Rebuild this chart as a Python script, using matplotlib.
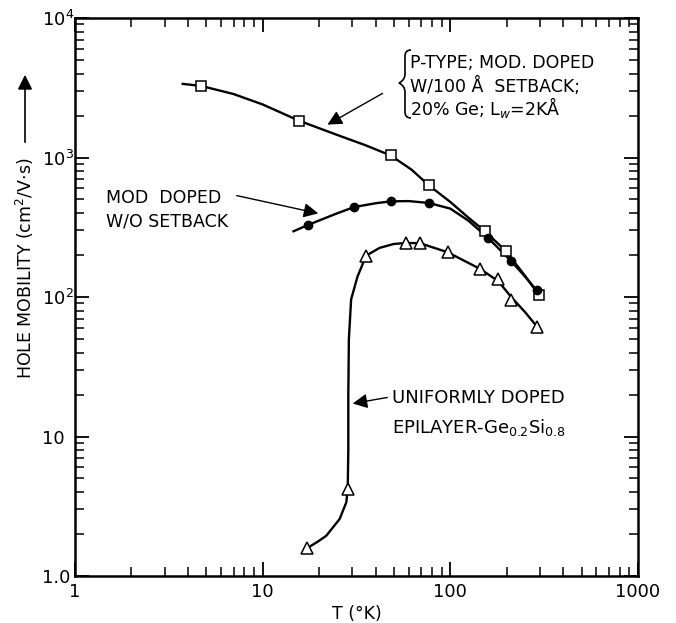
import numpy as np
import matplotlib
matplotlib.use('Agg')
import matplotlib.pyplot as plt
from matplotlib.path import Path
from matplotlib.patches import PathPatch
from matplotlib.ticker import FixedLocator, NullFormatter, LogLocator

# markers (T in K, mobility in cm2/V.s)
sq_T = [4.7, 15.7, 48, 77, 153, 198, 297]
sq_mu = [3260, 1830, 1035, 630, 296, 213, 103]

dot_T = [17.5, 30.6, 48, 77, 159, 210, 288]
dot_mu = [329, 441, 485, 472, 265, 182, 112]

tri_T = [17.2, 28.4, 35.6, 58.1, 69, 97, 144, 180, 211, 290]
tri_mu = [1.58, 4.2, 198, 244, 243, 209, 159, 135, 95, 61.2]

# traced lines through the markers
sq_line_T = [3.75, 4.7, 7, 10, 15.7, 25, 35, 48, 62, 77, 100, 125, 153, 198, 250, 297]
sq_line_mu = [3370, 3260, 2850, 2400, 1830, 1450, 1230, 1035, 820, 630, 480, 370, 296, 213, 142, 103]

dot_line_T = [14.6, 17.5, 24, 30.6, 40, 48, 60, 77, 100, 125, 159, 210, 250, 288]
dot_line_mu = [296, 329, 390, 441, 470, 485, 487, 472, 430, 352, 265, 182, 140, 112]

tri_line_T = [17.2, 19.5, 21.8, 25.7, 27.9, 28.4, 28.6, 28.6, 28.8, 29.6, 32, 35.6,
              42, 50, 58.1, 69, 97, 144, 180, 211, 250, 290]
tri_line_mu = [1.58, 1.75, 1.94, 2.56, 3.37, 4.2, 8, 20, 50, 96, 140, 198,
               225, 240, 244, 243, 209, 159, 130, 100, 78, 61.2]

x_ticks = [1, 10, 100, 1000]
x_labels = ['1', '10', '100', '1000']
y_ticks = [1, 10, 100, 1000, 10000]
y_labels = ['1.0', '10', '$10^2$', '$10^3$', '$10^4$']

W, H = 676, 623


def px(x, y):
    # picture pixel -> figure fraction
    return x / W, 1 - y / H


fig = plt.figure(figsize=(W / 100, H / 100), dpi=100)
ax = fig.add_axes([75 / W, 1 - 576 / H, (638 - 75) / W, (576 - 18) / H])
ax.set_xscale('log')
ax.set_yscale('log')
ax.set_xlim(1, 1000)
ax.set_ylim(1, 10000)

lw = 1.7
ax.plot(sq_line_T, sq_line_mu, color='k', lw=lw, zorder=2)
ax.plot(dot_line_T, dot_line_mu, color='k', lw=lw, zorder=2)
ax.plot(tri_line_T, tri_line_mu, color='k', lw=lw, zorder=2)
ax.plot(sq_T, sq_mu, 's', ms=7.5, mfc='white', mec='k', mew=1.1, zorder=3)
ax.plot(dot_T, dot_mu, 'o', ms=6, mfc='k', mec='k', zorder=3)
ax.plot(tri_T, tri_mu, '^', ms=8, mfc='white', mec='k', mew=1.1, zorder=3)

ax.xaxis.set_major_locator(FixedLocator(x_ticks))
ax.xaxis.set_minor_locator(LogLocator(base=10, subs=np.arange(2, 10)))
ax.xaxis.set_minor_formatter(NullFormatter())
ax.set_xticklabels(x_labels)
ax.yaxis.set_major_locator(FixedLocator(y_ticks))
ax.yaxis.set_minor_locator(LogLocator(base=10, subs=np.arange(2, 10)))
ax.yaxis.set_minor_formatter(NullFormatter())
ax.set_yticklabels(y_labels, ha='left')

ax.tick_params(which='both', direction='in', top=True, right=True, labelsize=13)
ax.tick_params(which='major', length=10, width=1.3)
ax.tick_params(which='minor', length=6.5, width=1.1)
ax.tick_params(axis='x', which='major', pad=5)
ax.tick_params(axis='y', which='major', pad=23.5)
for s in ax.spines.values():
    s.set_linewidth(1.8)

ax.set_xlabel('T (°K)', fontsize=12.5, labelpad=3)

# y label with arrow above it
fig.text(*px(25, 268), 'HOLE MOBILITY (cm$^2$/V$\\cdot$s)', rotation=90,
         ha='center', va='center', fontsize=12.5)
ax.annotate('', xy=px(25, 72), xytext=px(25, 145), xycoords='figure fraction',
            textcoords='figure fraction',
            arrowprops=dict(arrowstyle='-|>', color='k', lw=1.2, mutation_scale=22))

fs = 12.5
arrow = dict(arrowstyle='-|>', color='k', lw=1.0, mutation_scale=22)

# upper label block with brace
for row, yy in zip(['P-TYPE; MOD. DOPED', 'W/100 Å  SETBACK;', '20% Ge; L$_w$=2KÅ'],
                   [63, 86, 108]):
    fig.text(*px(410, yy), row, ha='left', va='center', fontsize=fs)
verts = [px(411, 50), px(405, 50), px(405, 56), px(405, 62),
         px(405, 74), px(405, 80), px(399, 83),
         px(405, 86), px(405, 92),
         px(405, 104), px(405, 112), px(405, 118), px(411, 118)]
codes = [Path.MOVETO, Path.CURVE3, Path.CURVE3, Path.LINETO,
         Path.LINETO, Path.CURVE3, Path.CURVE3,
         Path.CURVE3, Path.CURVE3,
         Path.LINETO, Path.LINETO, Path.CURVE3, Path.CURVE3]
fig.add_artist(PathPatch(Path(verts, codes), transform=fig.transFigure,
                         fill=False, lw=1.2, color='k'))
ax.annotate('', xy=px(325, 126), xytext=px(385, 92), xycoords='figure fraction',
            textcoords='figure fraction', arrowprops=arrow)

# mod doped w/o setback
fig.text(*px(106, 198), 'MOD  DOPED', ha='left', va='center', fontsize=fs)
fig.text(*px(106, 222), 'W/O SETBACK', ha='left', va='center', fontsize=fs)
ax.annotate('', xy=px(321, 214), xytext=px(234, 195), xycoords='figure fraction',
            textcoords='figure fraction', arrowprops=arrow)

# uniformly doped
fig.text(*px(392, 398), 'UNIFORMLY DOPED', ha='left', va='center', fontsize=13)
fig.text(*px(392, 427), 'EPILAYER-Ge$_{0.2}$Si$_{0.8}$', ha='left', va='center', fontsize=13)
ax.annotate('', xy=px(350, 404), xytext=px(390, 397), xycoords='figure fraction',
            textcoords='figure fraction', arrowprops=arrow)

fig.savefig('out.png', dpi=100)
